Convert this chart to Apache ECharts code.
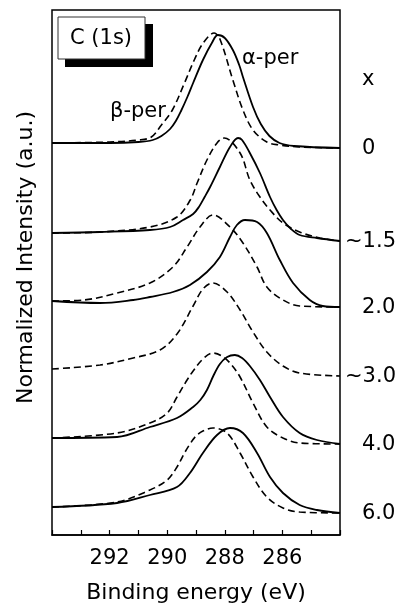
<!DOCTYPE html>
<html>
<head>
<meta charset="utf-8">
<script src="https://cdn.jsdelivr.net/npm/echarts@6/dist/echarts.min.js"></script>
<style>
  html, body { margin: 0; padding: 0; background: #fff; }
  #chart { width: 397px; height: 609px; }
</style>
</head>
<body>
<div id="chart"></div>
<script>
// binding energy ticks (eV) that carry a label
const energyTicks = [292, 290, 288, 286]

// C 1s spectra, [binding energy (eV), offset intensity (a.u.)]
// solid = alpha-per, dashed = beta-per, one pair per x
const alpha0 = [[294.0, 392], [292.0, 392], [291.0, 393], [290.5, 395], [290.2, 399], [289.9, 406], [289.7, 414], [289.52, 424], [289.3, 438], [289.1, 452], [288.76, 475], [288.45, 492], [288.24, 500], [288.0, 497], [287.72, 485], [287.5, 470], [287.37, 458], [287.02, 428], [286.75, 411], [286.45, 399], [286.1, 392], [285.6, 389], [284.0, 387]]
const beta0 = [[294.0, 392], [292.0, 393], [291.0, 395], [290.55, 398], [290.2, 410], [289.82, 425], [289.4, 452], [289.06, 475], [288.75, 492], [288.37, 502], [288.17, 496], [287.72, 455], [287.37, 425], [287.02, 405], [286.54, 393], [286.1, 390], [285.4, 388], [284.0, 387]]

const alpha15 = [[294.0, 302], [292.33, 303], [290.6, 305], [289.9, 308], [289.45, 315], [289.1, 321], [288.9, 328], [288.7, 338], [288.51, 348], [288.17, 368], [287.82, 388], [287.54, 397], [287.4, 395], [287.13, 382], [286.78, 362], [286.43, 338], [286.2, 325], [285.98, 315], [285.7, 306], [285.4, 300], [284.8, 297], [284.0, 294]]
const beta15 = [[294.0, 302], [292.33, 303], [290.6, 308], [289.66, 318], [289.2, 335], [288.96, 352], [288.62, 375], [288.27, 392], [288.02, 397], [287.47, 382], [287.13, 355], [286.78, 338], [286.43, 325], [285.98, 312], [285.4, 303], [284.7, 297], [284.0, 294]]

const alpha20 = [[294.0, 234], [292.33, 232], [291.18, 235], [290.6, 238], [289.8, 243], [289.21, 250], [288.62, 263], [288.17, 278], [287.82, 298], [287.58, 310], [287.3, 315], [286.88, 313], [286.54, 302], [286.09, 275], [285.63, 252], [285.05, 235], [284.6, 229], [284.0, 228]]
const beta20 = [[294.0, 234], [292.9, 235], [291.74, 242], [290.6, 252], [289.8, 268], [289.31, 288], [288.86, 308], [288.41, 320], [287.82, 308], [287.37, 292], [286.88, 268], [286.54, 248], [285.98, 235], [285.4, 229], [284.0, 228]]

const beta30 = [[294.0, 166], [292.33, 170], [291.18, 177], [290.25, 185], [289.66, 201], [289.1, 229], [288.76, 246], [288.41, 252], [287.92, 243], [287.47, 225], [287.02, 203], [286.54, 183], [285.98, 169], [285.4, 162], [284.0, 159]]

const alpha40 = [[294.0, 97], [291.74, 98], [290.6, 108], [289.66, 117], [289.1, 128], [288.85, 135], [288.62, 145], [288.4, 159], [288.17, 171], [287.92, 178], [287.65, 180], [287.4, 177], [287.13, 169], [286.78, 155], [286.43, 138], [285.98, 118], [285.4, 102], [284.8, 95], [284.0, 91]]
const beta40 = [[294.0, 97], [291.74, 102], [290.6, 112], [290.0, 122], [289.66, 138], [289.31, 155], [289.1, 164], [288.76, 176], [288.41, 182], [288.1, 179], [287.82, 172], [287.47, 158], [287.02, 132], [286.54, 108], [285.98, 97], [285.4, 92], [284.0, 91]]

const alpha60 = [[294.0, 28], [291.74, 32], [290.6, 40], [289.66, 48], [289.21, 62], [288.76, 82], [288.27, 100], [287.82, 107], [287.37, 102], [286.88, 82], [286.43, 58], [285.98, 42], [285.4, 30], [284.8, 25], [284.0, 22]]
const beta60 = [[294.0, 28], [291.74, 33], [290.6, 45], [290.0, 55], [289.66, 68], [289.4, 82], [289.21, 91], [289.0, 99], [288.76, 104], [288.41, 107], [287.92, 102], [287.47, 82], [287.02, 58], [286.54, 38], [285.98, 27], [285.4, 23], [284.0, 22]]

// composition label at the right end of each pair
const xLabels = ['0', '~1.5', '2.0', '~3.0', '4.0', '6.0']
const labelSeries = [alpha0, alpha15, alpha20, beta30, alpha40, alpha60]

const FONT = 'DejaVu Sans'

function solid (name, data) {
  return {
    name: name,
    type: 'line',
    data: data,
    smooth: 0.35,
    symbol: 'none',
    silent: true,
    lineStyle: { color: '#000', width: 1.8 }
  }
}

function dashed (name, data) {
  return {
    name: name,
    type: 'line',
    data: data,
    smooth: 0.35,
    symbol: 'none',
    silent: true,
    lineStyle: { color: '#000', width: 1.6, type: [7, 4] }
  }
}

const chart = echarts.init(document.getElementById('chart'), null, { renderer: 'canvas' })

const option = {
  animation: false,
  backgroundColor: '#fff',
  grid: {
    left: 52,
    right: 57,
    top: 10,
    bottom: 74,
    show: true,
    borderColor: '#000',
    borderWidth: 1.5,
    backgroundColor: 'transparent'
  },
  xAxis: {
    type: 'value',
    inverse: true,
    min: 284,
    max: 294,
    interval: 2,
    name: 'Binding energy (eV)',
    nameLocation: 'middle',
    nameGap: 47,
    nameTextStyle: { color: '#000', fontSize: 22, fontFamily: FONT },
    axisLine: { show: true, lineStyle: { color: '#000', width: 1.5 } },
    axisTick: { show: true, inside: true, length: 5, lineStyle: { color: '#000', width: 1.2 } },
    minorTick: { show: true, splitNumber: 2, length: 5, lineStyle: { color: '#000', width: 1.2 } },
    splitLine: { show: false },
    axisLabel: {
      color: '#000',
      fontSize: 21,
      fontFamily: FONT,
      margin: 13,
      formatter: (v) => energyTicks.includes(v) ? String(v) : ''
    }
  },
  yAxis: {
    type: 'value',
    min: 0,
    max: 525,
    name: 'Normalized Intensity (a.u.)',
    nameLocation: 'middle',
    nameGap: 15,
    nameTextStyle: { color: '#000', fontSize: 22, fontFamily: FONT, padding: [0, 0, 0, 30] },
    axisLine: { show: false },
    axisTick: { show: false },
    axisLabel: { show: false },
    splitLine: { show: false }
  },
  series: [
    solid('alpha 0', alpha0), dashed('beta 0', beta0),
    solid('alpha 1.5', alpha15), dashed('beta 1.5', beta15),
    solid('alpha 2.0', alpha20), dashed('beta 2.0', beta20),
    dashed('beta 3.0', beta30),
    solid('alpha 4.0', alpha40), dashed('beta 4.0', beta40),
    solid('alpha 6.0', alpha60), dashed('beta 6.0', beta60)
  ]
}

chart.setOption(option)

// right hand x labels sit at the end height of their spectra
const endLabels = labelSeries.map((data, i) => {
  const last = data[data.length - 1]
  const [px, py] = chart.convertToPixel({ gridIndex: 0 }, last)
  const text = xLabels[i]
  const tilde = text.charAt(0) === '~'
  return {
    type: 'text',
    x: px + (tilde ? 5 : 22),
    y: py + 1,
    style: {
      text: text,
      fill: '#000',
      font: '21px "' + FONT + '"',
      textAlign: 'left',
      textVerticalAlign: 'middle'
    }
  }
})

chart.setOption({
  graphic: [
    // C (1s) box with drop shadow
    { type: 'rect', shape: { x: 65, y: 24, width: 88, height: 43 }, style: { fill: '#000' } },
    { type: 'rect', shape: { x: 58, y: 17, width: 87, height: 42 }, style: { fill: '#fff', stroke: '#333', lineWidth: 1 } },
    { type: 'text', x: 101, y: 39, style: { text: 'C (1s)', fill: '#000', font: '21px "' + FONT + '"', textAlign: 'center', textVerticalAlign: 'middle' } },
    { type: 'text', x: 242, y: 59, style: { text: 'α-per', fill: '#000', font: '21px "' + FONT + '"', textAlign: 'left', textVerticalAlign: 'middle' } },
    { type: 'text', x: 110, y: 112, style: { text: 'β-per', fill: '#000', font: '21px "' + FONT + '"', textAlign: 'left', textVerticalAlign: 'middle' } },
    { type: 'text', x: 362, y: 80, style: { text: 'x', fill: '#000', font: '21px "' + FONT + '"', textAlign: 'left', textVerticalAlign: 'middle' } }
  ].concat(endLabels)
})
</script>
</body>
</html>
